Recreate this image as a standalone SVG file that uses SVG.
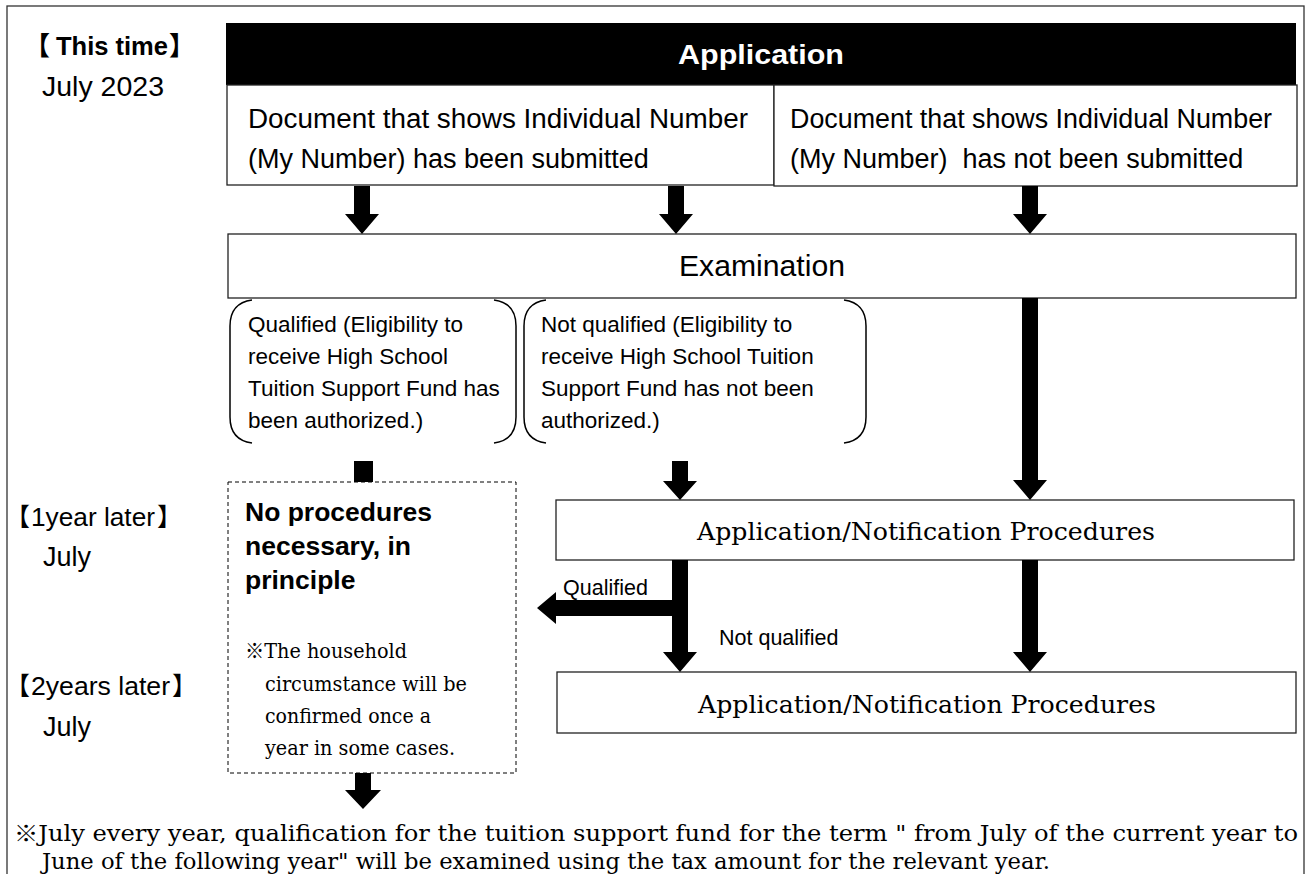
<svg xmlns="http://www.w3.org/2000/svg" width="1310" height="874" viewBox="0 0 1310 874">
<style>
.box{fill:#fff;stroke:#222;stroke-width:1.3}
.sans{font-family:"Liberation Sans",Arial,"Noto Sans CJK JP",sans-serif;fill:#000}
.cjk{font-family:"Noto Sans CJK JP","Liberation Sans",sans-serif;fill:#000}
.serif{font-family:"DejaVu Serif","Liberation Serif","Noto Sans CJK JP",serif;fill:#000}
.bold{font-weight:bold}
.brk{fill:none;stroke:#000;stroke-width:1.5}
.arr{fill:#000;stroke:none}
</style>
<rect x="7" y="6" width="1297" height="880" fill="#fff" stroke="#333" stroke-width="1.3"/>

<g id="timeline">
  <text class="sans bold" y="55" font-size="26"><tspan class="cjk" x="24">【</tspan><tspan x="56" textLength="112" lengthAdjust="spacingAndGlyphs">This time</tspan><tspan class="cjk" x="169">】</tspan></text>
  <text class="sans" x="42" y="96" font-size="27" textLength="122" lengthAdjust="spacingAndGlyphs">July 2023</text>
  <text class="sans" y="526" font-size="25"><tspan class="cjk" x="5">【</tspan><tspan x="31" textLength="124" lengthAdjust="spacingAndGlyphs">1year later</tspan><tspan class="cjk" x="157">】</tspan></text>
  <text class="sans" x="43" y="566" font-size="27">July</text>
  <text class="sans" y="695" font-size="25"><tspan class="cjk" x="5">【</tspan><tspan x="31" textLength="139" lengthAdjust="spacingAndGlyphs">2years later</tspan><tspan class="cjk" x="172">】</tspan></text>
  <text class="sans" x="43" y="736" font-size="27">July</text>
</g>

<g id="application">
  <rect x="226" y="23" width="1070" height="62" fill="#000"/>
  <text class="sans bold" x="761" y="64" font-size="28" style="fill:#fff" text-anchor="middle" textLength="166" lengthAdjust="spacingAndGlyphs">Application</text>
</g>

<g id="doc-submitted">
  <rect class="box" x="227" y="85" width="547" height="100"/>
  <text class="sans" x="248" y="128" font-size="27" textLength="500" lengthAdjust="spacingAndGlyphs">Document that shows Individual Number</text>
  <text class="sans" x="248" y="168" font-size="27">(My Number) has been submitted</text>
</g>

<g id="doc-not-submitted">
  <rect class="box" x="774" y="85" width="523" height="101"/>
  <text class="sans" x="790" y="128" font-size="27" textLength="482" lengthAdjust="spacingAndGlyphs">Document that shows Individual Number</text>
  <text class="sans" x="790" y="168" font-size="27" xml:space="preserve">(My Number)  has not been submitted</text>
</g>

<g id="examination">
  <rect class="box" x="228" y="234" width="1068" height="64"/>
  <text class="sans" x="762" y="276" font-size="29" text-anchor="middle" textLength="166" lengthAdjust="spacingAndGlyphs">Examination</text>
</g>

<g id="qualified">
  <path class="brk" d="M252,300 Q230,303 230,326 L230,417 Q230,440 252,443"/>
  <path class="brk" d="M494,300 Q516,303 516,326 L516,417 Q516,440 494,443"/>
  <text class="sans" font-size="22.5">
    <tspan x="248" y="332">Qualified (Eligibility to</tspan>
    <tspan x="248" y="364">receive High School</tspan>
    <tspan x="248" y="396">Tuition Support Fund has</tspan>
    <tspan x="248" y="428">been authorized.)</tspan>
  </text>
</g>

<g id="not-qualified">
  <path class="brk" d="M546,300 Q524,303 524,326 L524,417 Q524,440 546,443"/>
  <path class="brk" d="M844,300 Q866,303 866,326 L866,417 Q866,440 844,443"/>
  <text class="sans" font-size="22.5">
    <tspan x="541" y="332">Not qualified (Eligibility to</tspan>
    <tspan x="541" y="364">receive High School Tuition</tspan>
    <tspan x="541" y="396">Support Fund has not been</tspan>
    <tspan x="541" y="428">authorized.)</tspan>
  </text>
</g>

<g id="no-procedures">
  <rect x="228" y="482" width="288" height="291" fill="#fff" stroke="#000" stroke-width="1" stroke-dasharray="4,3"/>
  <text class="sans bold" font-size="26.5">
    <tspan x="245" y="521">No procedures</tspan>
    <tspan x="245" y="555">necessary, in</tspan>
    <tspan x="245" y="589">principle</tspan>
  </text>
  <text class="serif" font-size="21">
    <tspan x="245" y="658" textLength="162" lengthAdjust="spacingAndGlyphs">※The household</tspan>
    <tspan x="265" y="691" textLength="202" lengthAdjust="spacingAndGlyphs">circumstance will be</tspan>
    <tspan x="265" y="723" textLength="166" lengthAdjust="spacingAndGlyphs">confirmed once a</tspan>
    <tspan x="265" y="755" textLength="190" lengthAdjust="spacingAndGlyphs">year in some cases.</tspan>
  </text>
</g>

<g id="procedures-1">
  <rect class="box" x="556" y="500" width="738" height="60"/>
  <text class="serif" x="697" y="540" font-size="24" textLength="458" lengthAdjust="spacingAndGlyphs">Application/Notification Procedures</text>
</g>

<g id="procedures-2">
  <rect class="box" x="557" y="672" width="739" height="61"/>
  <text class="serif" x="698" y="713" font-size="24" textLength="458" lengthAdjust="spacingAndGlyphs">Application/Notification Procedures</text>
</g>

<g id="connectors">
  <polygon class="arr" points="354,186 370,186 370,214 379,214 362,234 345,214 354,214"/>
  <polygon class="arr" points="668,186 684,186 684,214 693,214 676,234 659,214 668,214"/>
  <polygon class="arr" points="1022,186 1038,186 1038,214 1047,214 1030,234 1013,214 1022,214"/>
  <polygon class="arr" points="1022,298 1038,298 1038,480 1047,480 1030,500 1013,480 1022,480"/>
  <rect class="arr" x="354" y="461" width="19" height="21"/>
  <polygon class="arr" points="672,461 688,461 688,481 697,481 680,500 663,481 672,481"/>
  <polygon class="arr" points="672,560 688,560 688,652 697,652 680,672 663,652 672,652 672,616 556,616 556,624 537,608 556,592 556,600 672,600"/>
  <polygon class="arr" points="1022,560 1038,560 1038,652 1047,652 1030,672 1013,652 1022,652"/>
  <polygon class="arr" points="355,773 371,773 371,790 381,790 363,809 345,790 355,790"/>
  <text class="sans" x="563" y="595" font-size="21.5">Qualified</text>
  <text class="sans" x="719" y="645" font-size="21.5">Not qualified</text>
</g>

<g id="footnote">
  <text class="serif" font-size="22">
    <tspan x="14" y="841" textLength="1284" lengthAdjust="spacingAndGlyphs">※July every year, qualification for the tuition support fund for the term " from July of the current year to</tspan>
    <tspan x="42" y="869" textLength="1008" lengthAdjust="spacingAndGlyphs">June of the following year" will be examined using the tax amount for the relevant year.</tspan>
  </text>
</g>
</svg>
